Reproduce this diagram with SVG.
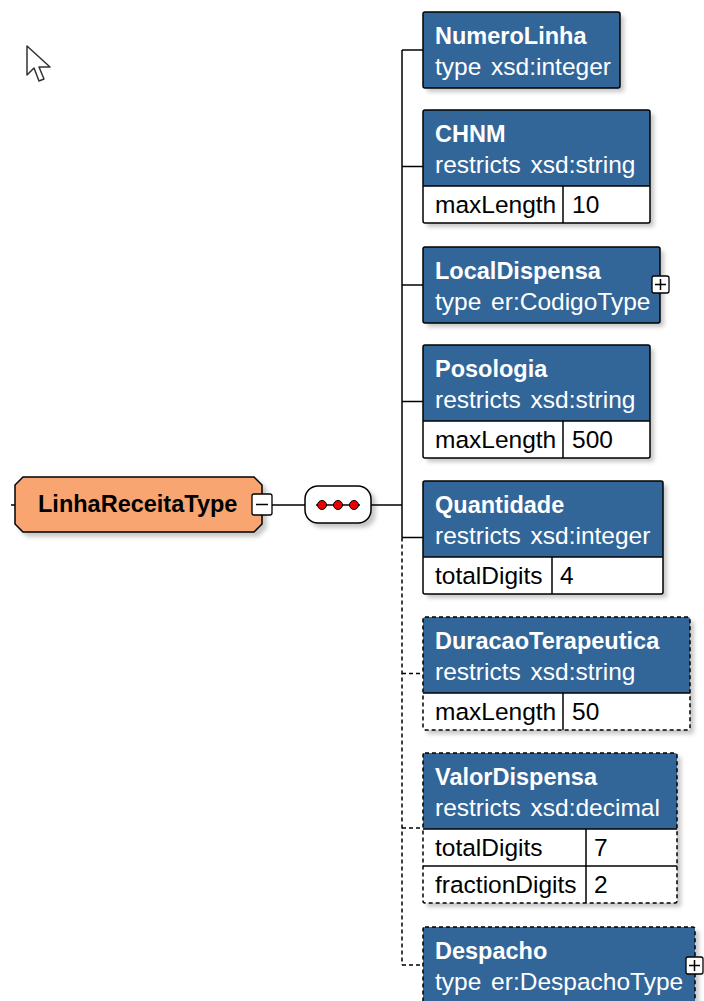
<svg xmlns="http://www.w3.org/2000/svg" width="704" height="1001" viewBox="0 0 704 1001">
<defs>
<filter id="sh" x="-10%" y="-10%" width="130%" height="140%">
<feGaussianBlur in="SourceAlpha" stdDeviation="2"/>
<feOffset dx="4" dy="4" result="b"/>
<feFlood flood-color="#000" flood-opacity="0.22"/>
<feComposite in2="b" operator="in"/>
<feMerge><feMergeNode/><feMergeNode in="SourceGraphic"/></feMerge>
</filter>
</defs>
<style>
.hdr{fill:#336699}
.tbl{fill:#fff}
.bd{fill:none;stroke:#000;stroke-width:1.5}
.opt{stroke-dasharray:4 3}
.ln{stroke:#000;stroke-width:1.5;fill:none}
.dl{stroke:#000;stroke-width:1.5;fill:none;stroke-dasharray:4 3}
.t1{font-family:"Liberation Sans",Arial,sans-serif;font-size:23.5px;font-weight:bold;fill:#fff}
.t2{font-family:"Liberation Sans",Arial,sans-serif;font-size:24.5px;fill:#fff;word-spacing:3px}
.t3{font-family:"Liberation Sans",Arial,sans-serif;font-size:24.5px;fill:#000}
.tr{font-family:"Liberation Sans",Arial,sans-serif;font-size:23.5px;font-weight:bold;fill:#000}
.pb{fill:#fff;stroke:#000;stroke-width:1.3}
</style>
<rect width="704" height="1001" fill="#fff"/>

<path d="M27,46 L27,75 L34,68 L39,81 L44,79 L39,67 L50,67 Z" fill="#fff" stroke="#333" stroke-width="1.5" stroke-linejoin="round"/>

<g id="connectors">
<line class="ln" x1="11" y1="505" x2="15" y2="505"/>
<line class="ln" x1="272" y1="505" x2="305" y2="505"/>
<line class="ln" x1="371" y1="505" x2="402" y2="505"/>
<line class="ln" x1="402" y1="50" x2="402" y2="537.5"/>
<line class="dl" x1="402" y1="537.5" x2="402" y2="965"/>
<line class="ln" x1="402" y1="50" x2="423" y2="50"/>
<line class="ln" x1="402" y1="166.5" x2="423" y2="166.5"/>
<line class="ln" x1="402" y1="285" x2="423" y2="285"/>
<line class="ln" x1="402" y1="401.5" x2="423" y2="401.5"/>
<line class="ln" x1="402" y1="537.5" x2="423" y2="537.5"/>
<line class="dl" x1="402" y1="673.5" x2="423" y2="673.5"/>
<line class="dl" x1="402" y1="828" x2="423" y2="828"/>
<line class="dl" x1="402" y1="965" x2="423" y2="965"/>
</g>

<g id="LinhaReceitaType">
<path d="M23,477 L254,477 L262,485 L262,524 L254,532 L23,532 L15,524 L15,485 Z" fill="#F8A571" stroke="#000" stroke-width="1.5" filter="url(#sh)"/>
<text class="tr" x="38" y="512">LinhaReceitaType</text>
<rect class="pb" x="252" y="494" width="20" height="21" rx="2"/>
<line class="ln" x1="256" y1="504.5" x2="268" y2="504.5"/>
</g>

<g id="sequence">
<rect x="305" y="486" width="66" height="37" rx="13" fill="#fff" stroke="#000" stroke-width="1.5" filter="url(#sh)"/>
<line class="ln" x1="316" y1="505" x2="360" y2="505"/>
<circle cx="322" cy="505" r="4.5" fill="#e00" stroke="#000" stroke-width="1"/>
<circle cx="338" cy="505" r="4.5" fill="#e00" stroke="#000" stroke-width="1"/>
<circle cx="354" cy="505" r="4.5" fill="#e00" stroke="#000" stroke-width="1"/>
</g>

<g id="NumeroLinha">
<rect class="hdr" x="423" y="12" width="197" height="76" rx="2" filter="url(#sh)"/>
<rect class="bd" x="423" y="12" width="197" height="76" rx="2"/>
<text class="t1" x="435" y="44">NumeroLinha</text>
<text class="t2" x="435" y="75">type xsd:integer</text>
</g>

<g id="CHNM">
<g filter="url(#sh)"><rect class="tbl" x="423" y="110" width="227" height="113" rx="2"/><rect class="hdr" x="423" y="110" width="227" height="76" rx="2"/></g>
<line class="ln" x1="423" y1="186" x2="650" y2="186"/>
<line class="ln" x1="563" y1="186" x2="563" y2="223"/>
<rect class="bd" x="423" y="110" width="227" height="113" rx="2"/>
<text class="t1" x="435" y="142">CHNM</text>
<text class="t2" x="435" y="173">restricts xsd:string</text>
<text class="t3" x="435" y="213">maxLength</text>
<text class="t3" x="572" y="213">10</text>
</g>

<g id="LocalDispensa">
<rect class="hdr" x="423" y="247" width="237" height="76" rx="2" filter="url(#sh)"/>
<rect class="bd" x="423" y="247" width="237" height="76" rx="2"/>
<text class="t1" x="435" y="279">LocalDispensa</text>
<text class="t2" x="435" y="310">type er:CodigoType</text>
<rect class="pb" x="652" y="276" width="17" height="17" rx="2"/>
<path class="ln" d="M655,284.5 H666 M660.5,279 V290"/>
</g>

<g id="Posologia">
<g filter="url(#sh)"><rect class="tbl" x="423" y="345" width="227" height="113" rx="2"/><rect class="hdr" x="423" y="345" width="227" height="76" rx="2"/></g>
<line class="ln" x1="423" y1="421" x2="650" y2="421"/>
<line class="ln" x1="563" y1="421" x2="563" y2="458"/>
<rect class="bd" x="423" y="345" width="227" height="113" rx="2"/>
<text class="t1" x="435" y="377">Posologia</text>
<text class="t2" x="435" y="408">restricts xsd:string</text>
<text class="t3" x="435" y="448">maxLength</text>
<text class="t3" x="572" y="448">500</text>
</g>

<g id="Quantidade">
<g filter="url(#sh)"><rect class="tbl" x="423" y="481" width="240" height="113" rx="2"/><rect class="hdr" x="423" y="481" width="240" height="76" rx="2"/></g>
<line class="ln" x1="423" y1="557" x2="663" y2="557"/>
<line class="ln" x1="552" y1="557" x2="552" y2="594"/>
<rect class="bd" x="423" y="481" width="240" height="113" rx="2"/>
<text class="t1" x="435" y="513">Quantidade</text>
<text class="t2" x="435" y="544">restricts xsd:integer</text>
<text class="t3" x="435" y="584">totalDigits</text>
<text class="t3" x="560" y="584">4</text>
</g>

<g id="DuracaoTerapeutica">
<g filter="url(#sh)"><rect class="tbl" x="423" y="617" width="267" height="113" rx="2"/><rect class="hdr" x="423" y="617" width="267" height="76" rx="2"/></g>
<line class="ln" x1="423" y1="693" x2="690" y2="693"/>
<line class="ln" x1="563" y1="693" x2="563" y2="730"/>
<rect class="bd opt" x="423" y="617" width="267" height="113" rx="2"/>
<text class="t1" x="435" y="649">DuracaoTerapeutica</text>
<text class="t2" x="435" y="680">restricts xsd:string</text>
<text class="t3" x="435" y="720">maxLength</text>
<text class="t3" x="572" y="720">50</text>
</g>

<g id="ValorDispensa">
<g filter="url(#sh)"><rect class="tbl" x="423" y="753" width="254" height="150" rx="2"/><rect class="hdr" x="423" y="753" width="254" height="76" rx="2"/></g>
<line class="ln" x1="423" y1="829" x2="677" y2="829"/>
<line class="ln" x1="423" y1="866" x2="677" y2="866"/>
<line class="ln" x1="586" y1="829" x2="586" y2="903"/>
<rect class="bd opt" x="423" y="753" width="254" height="150" rx="2"/>
<text class="t1" x="435" y="785">ValorDispensa</text>
<text class="t2" x="435" y="816">restricts xsd:decimal</text>
<text class="t3" x="435" y="856">totalDigits</text>
<text class="t3" x="594" y="856">7</text>
<text class="t3" x="435" y="893">fractionDigits</text>
<text class="t3" x="594" y="893">2</text>
</g>

<g id="Despacho">
<rect class="hdr" x="423" y="927" width="272" height="76" rx="2" filter="url(#sh)"/>
<rect class="bd opt" x="423" y="927" width="272" height="76" rx="2"/>
<text class="t1" x="435" y="959">Despacho</text>
<text class="t2" x="435" y="990">type er:DespachoType</text>
<rect class="pb" x="686" y="957" width="17" height="17" rx="2"/>
<path class="ln" d="M689,965.5 H700 M694.5,960 V971"/>
</g>
</svg>
